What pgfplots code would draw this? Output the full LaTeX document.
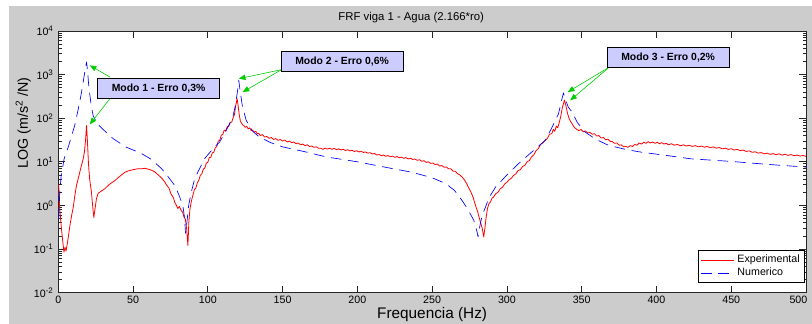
\documentclass[border=0pt]{standalone}
\usepackage{pgfplots}
\pgfplotsset{compat=1.18}
\usepackage{fontspec}
\setmainfont{Liberation Sans}
\setsansfont{Liberation Sans}
\usetikzlibrary{arrows.meta}
\definecolor{figgray}{RGB}{204,204,204}
\definecolor{boxfill}{RGB}{204,204,255}
\definecolor{arrgreen}{RGB}{0,205,0}
\definecolor{numblue}{RGB}{0,0,255}
\definecolor{expred}{RGB}{255,0,0}
\begin{document}
\begin{tikzpicture}
\fill[white] (-43.7pt,-23.5pt) rectangle (565.3pt,219.5pt);
\fill[figgray] (-37pt,-23.5pt) rectangle (565.3pt,215pt);
\begin{axis}[
  scale only axis, width=560.8pt, height=196.3pt,
  at={(0,0)}, anchor=south west,
  xmin=0, xmax=500, ymin=1e-2, ymax=1e4, ymode=log,
  xtick={0,50,...,500},
  xticklabels={0,50,100,150,200,250,300,350,400,450,\makebox[0pt][r]{500\hspace{-1pt}}},
  axis background/.style={fill=white},
  axis line style={black!85, line width=0.5pt},
  tick style={black!85, line width=0.5pt},
  major tick length=5.25pt, minor tick length=2.6pt,
  tick align=inside,
  /pgf/number format/assume math mode=true,
  xticklabel style={font=\fontsize{8}{9}\selectfont, yshift=1pt},
  yticklabel style={font=\fontsize{8}{9}\selectfont},
  yticklabel={\pgfmathparse{int(round(\tick/ln(10)))}10\textsuperscript{\pgfmathresult}},
  xlabel={Frequencia (Hz)},
  xlabel style={font=\fontsize{11.5}{13}\selectfont, at={(axis description cs:0.5,0)}, anchor=center, yshift=-16.7pt},
  ylabel={LOG (m/s\textsuperscript{2} /N)},
  ylabel style={font=\fontsize{10.7}{12}\selectfont, at={(axis description cs:0,0.648)}, anchor=center, yshift=26.3pt},
  clip=false,
  legend style={at={(rel axis cs:1,0)}, anchor=south east, xshift=-1pt, yshift=7.3pt,
    draw=black, fill=white, font=\fontsize{8}{9}\selectfont, inner sep=1.5pt, row sep=-1.5pt},
  legend cell align=left,
  legend image code/.code={\draw[#1] (0pt,0pt) -- (25pt,0pt);},
]
\addplot[expred, line width=0.6pt, line join=round] table {
x y
0.3 3
1 0.8
2 0.33
3 0.15
3.8 0.085
4.5 0.11
5.2 0.09
6 0.13
7 0.22
7.8 0.35
9 0.6
10 0.9
11 1.6
12.2 2.9
13.5 4.3
14.5 6
15.6 8.5
16.7 11.7
17.5 17
18.2 30
18.9 68
19.5 30
20.2 9
21 4
22.2 2.0
23.3 0.75
23.8 0.53
24.5 0.8
25.5 1.4
26.7 1.9
28.5 2.1
31.1 2.4
34 3.0
37.8 3.7
41 4.6
44.5 5.75
47 6.2
50 6.6
53 6.9
55.6 6.9
58 7.1
60 6.8
62 6.5
64.5 5.9
66 5.3
68 4.6
69.5 4.1
71.1 3.5
72.5 2.9
74 2.5
75.5 1.8
77 1.5
77.8 1.2
79 1.0
80 0.85
81 0.95
82.3 0.75
83.2 0.7
84 0.55
85 0.48
85.8 0.3
86.7 0.12
87.3 0.4
88 0.8
88.9 1.2
90 1.7
91 2.3
92 2.5
93 3.3
94 3.8
95 4.9
96 5.3
97 6.8
98 7.2
99 9.3
100 9.8
101 12.5
102 12.6
103 16
104 16.5
105 21
106 22.5
107 30
108 31
109 41
110 42
111 53
112 52
113 64
114 65
115 80
116 81
117 105
117.8 120
118.6 190
119.6 280
120.3 190
121 120
121.8 85
122.5 78
123.3 70
124 68
125 62
126 65
127 57
128 60
129 52
130 53
131 48
132 50
133 44
134 45
135 40
136.5 42
138 37
139.5 38
141 34.5
142.5 36
144 32.5
145.5 34
147 31
148.5 32.5
150 30
151.5 31.5
153 28.5
154.5 30
156 27.5
157.5 28.5
159 26
160.5 27
162 24.5
163.5 25.5
165 23.5
166.5 24.5
168 22.5
169.5 23
171 21.5
172.5 22
174 20.5
175.5 20.5
177 19.3
178.5 20.5
180 19.6
181.5 20.5
183 19.3
184.5 20.3
186 19
187.5 19.8
189 18.7
190.5 19.4
192 18.2
193.5 18.9
195 17.8
196.5 18.4
198 17.2
199.5 17.9
201 16.8
202.5 17.5
204 16.4
205.5 16.8
207 15.8
208.5 16.2
210 15.1
211.5 15.5
213 14.3
214.5 14.7
216 13.8
217.5 14.3
219 13.4
220.5 13.9
222 13
223.5 13.5
225 12.7
226.5 13.2
228 12.4
229.5 12.8
231 12
232.5 12.5
234 11.6
235.5 12.1
237 11.3
238.5 11.6
240 10.8
241.5 11.2
243 10.3
244.5 10.6
246 9.7
247.5 10
249 9.2
250.5 9.4
252 8.6
253.5 8.9
255 8.0
256.5 8.2
258 7.5
259.5 7.6
261 6.9
262.5 6.9
264 6.1
265.5 6.1
267 5.3
268.5 5.0
270 4.5
271.5 3.9
273 3.2
274.5 2.5
276 2.0
277.5 1.5
279 1.0
280.5 0.7
282 0.45
283.5 0.3
284.5 0.19
285.3 0.3
286 0.5
287 0.85
288 1.1
289 1.2
290 1.45
291 1.55
292.5 1.85
294 2.0
295.5 2.4
297 2.6
298.5 3.1
300 3.4
301.5 3.9
303 4.2
304.5 4.9
306 5.3
307.5 6.3
309 6.6
310.5 7.8
312 8.3
313.5 10
315 10.7
316.5 13
318 14.5
319.5 18
321 20
322.5 25
324 27
325.5 31
327 34
328.5 43
330 44
331 55
332 50
333 66
334 60
335 80
336 110
337 170
338.5 260
339.5 190
340.5 130
341.5 100
342.5 85
343.6 74
345 62
346.5 56
348 52
349.5 55
351 49
352.5 51
354 46
355.5 47
357 43
358.5 44
360 39
361.5 40
363 35
364.5 36
366 32
367.5 33
369 29.5
370.5 29
372 26.5
373.5 27
375 24
376.5 24.5
378 22
379.5 22.5
381 21.5
382.5 23.5
384 22.5
385.5 25
387 24
388.5 27
390 25.5
391.5 28
393 26.5
394.5 29
396 27
397.5 28.5
399 26.5
400.5 28
402 26
403.5 27.5
405 25.5
406.5 26.5
408 24.5
410 26
412 24
414 25
416 23.3
418 24.5
420 23
422 24
424 22.5
426 23.5
428 22
430 23
432 21.6
434 22.5
436 21
438 22
440 20.5
442 21.3
444 19.8
446 20.6
448 19.2
450 20
452 18.6
454 19.3
456 18
458 18.6
460 17.3
462 17.8
464 16.5
466 17
468 15.8
470 16.3
472 15.2
474 15.8
476 14.8
478 15.4
480 14.6
482 15.2
484 14.2
486 14.9
488 14
490 14.6
492 13.8
494 14.3
496 13.5
498 14
500 13.3
};
\addlegendentry{Experimental}
\addplot[numblue, line width=0.5pt, dash pattern=on 8pt off 5pt, line join=round] table {
x y
0.3 0.5
1 2
2 5
4 12
6.7 22
9 40
11 68
13.5 170
15.6 400
17 800
18 1300
18.9 1950
19.5 1300
20.5 500
22 200
23.3 115
26 75
30 55
36.7 34
45 22
55.6 15.5
62 11.5
69 7
74 4.3
77.8 2.9
80.5 1.8
83.3 1.0
84.5 0.5
85.1 0.23
86 0.4
87.2 1.0
88.9 2.0
91 3.8
93.3 5.8
98 12
104.5 22
107.8 28
112 50
116.7 105
118.5 200
120 450
120.7 740
121.5 450
123 200
125.6 90
130 50
134.5 37
142 27.5
150 22
165 17
178.9 13
200 10
223.3 7
236.7 5.75
250 4.3
258.9 3.2
265 2.2
270 1.3
274 0.8
277.8 0.46
280 0.25
280.7 0.19
282 0.35
283.5 0.6
285.6 0.9
288 1.5
292.3 2.6
300 5.0
307.8 9.1
315 15
325.6 31
330 60
334.5 126
336.5 250
337.8 380
339 280
341 180
343.6 138
347 80
352.3 48
360 32
367.8 24
380 19
390 16.6
410 13.5
423 11.7
450 10.2
467.8 9.1
485 8.2
500 7.6
};
\addlegendentry{Numerico}
% annotations
\tikzset{annbox/.style={draw=black, line width=0.8pt, fill=boxfill, minimum width=91.5pt, minimum height=15pt, inner sep=0pt, font=\fontsize{7.8}{9}\selectfont\bfseries},
         annarr/.style={draw=arrgreen, line width=0.45pt, -{Triangle[length=5pt,width=4pt,fill=arrgreen]}}}
\draw[annarr] (axis cs:34.5,877) -- (axis cs:21.1,1626);
\draw[annarr] (axis cs:34.5,280) -- (axis cs:21.1,72);
\node[annbox] at (axis cs:67.1,482) {Modo 1 - Erro 0,3\%};
\draw[annarr] (axis cs:149.3,1294) -- (axis cs:120.7,805);
\draw[annarr] (axis cs:149.3,1294) -- (axis cs:123.3,397);
\node[annbox] at (axis cs:189.8,2010) {Modo 2 - Erro 0,6\%};
\draw[annarr] (axis cs:368.5,1486) -- (axis cs:340.7,397);
\draw[annarr] (axis cs:368.5,1486) -- (axis cs:342.3,256);
\node[annbox] at (axis cs:407.8,2480) {Modo 3 - Erro 0,2\%};
\node[font=\fontsize{8.5}{10}\selectfont, anchor=center, yshift=9.75pt] at (rel axis cs:0.472,1) {FRF viga 1 - Agua (2.166*ro)};
\end{axis}
\pgfresetboundingbox
\path (-43.7pt,-23.5pt) rectangle (565.3pt,219.5pt);
\end{tikzpicture}
\end{document}
